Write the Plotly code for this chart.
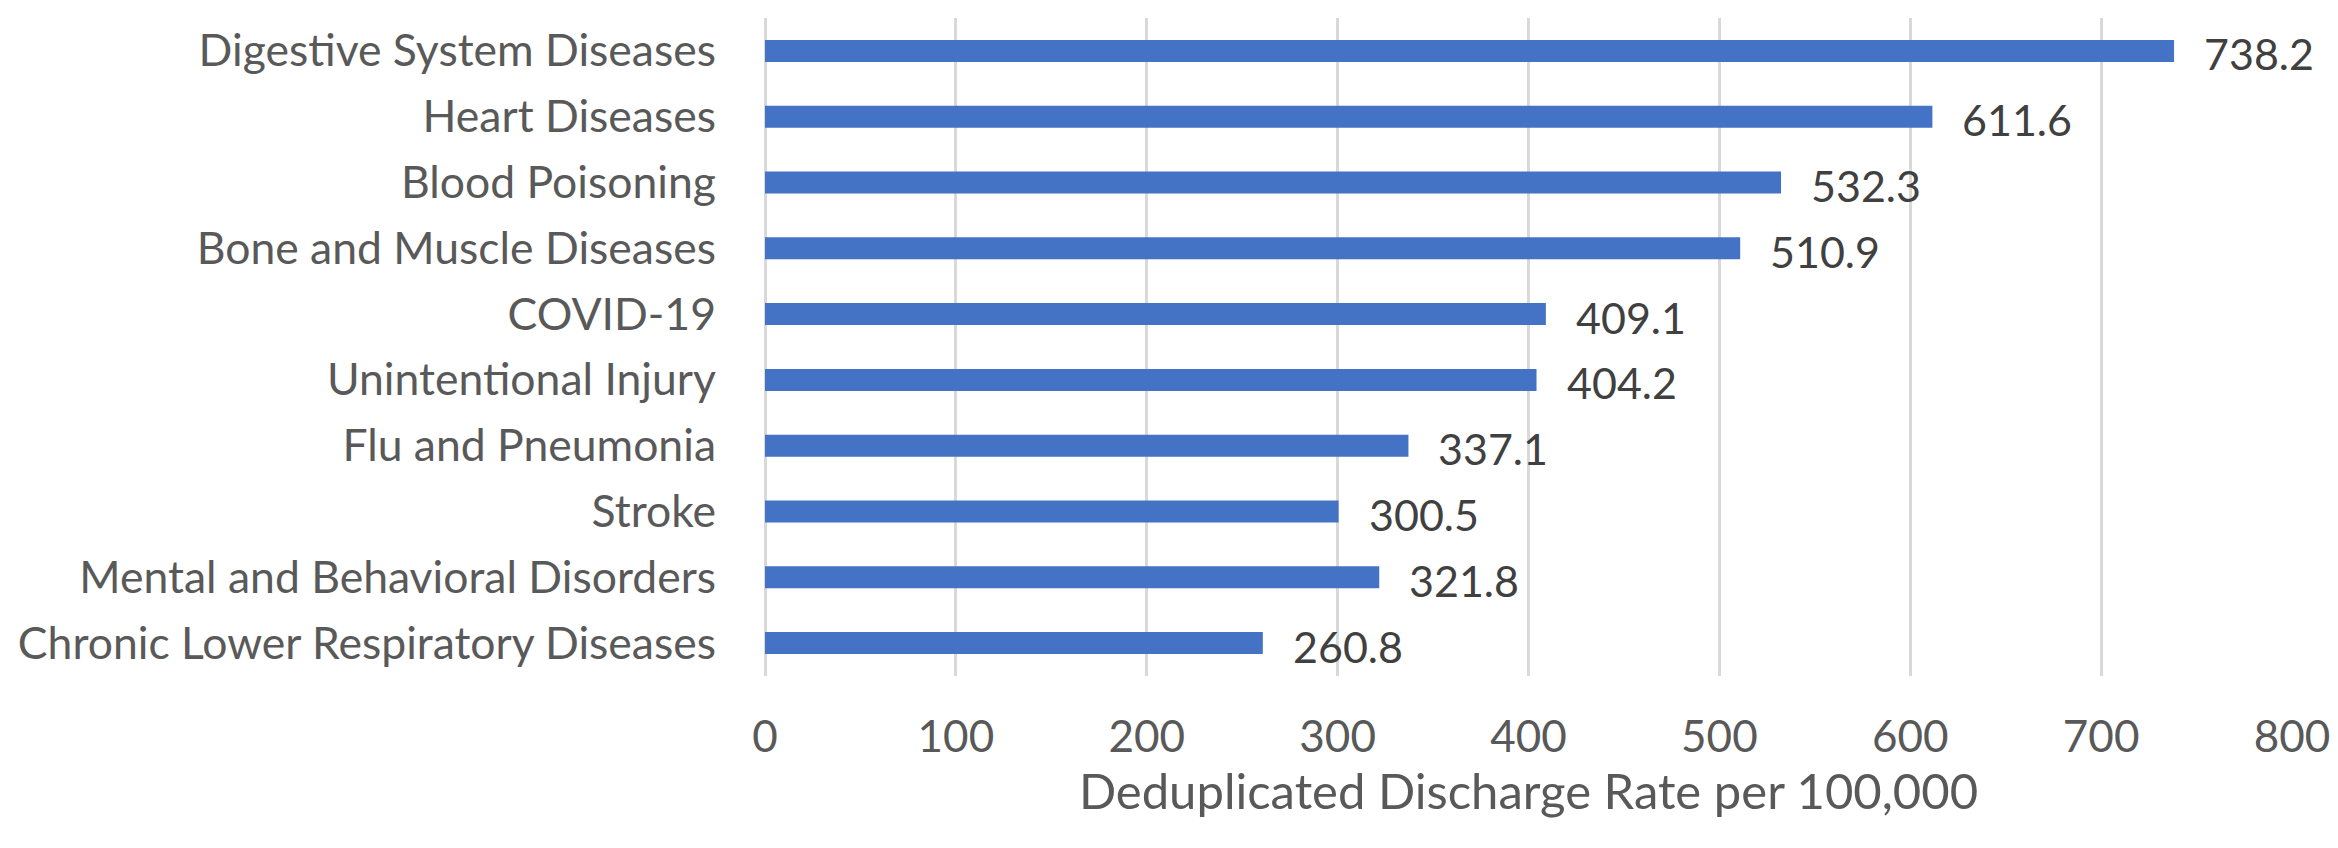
import plotly.graph_objects as go

categories = [
    "Digestive System Diseases",
    "Heart Diseases",
    "Blood Poisoning",
    "Bone and Muscle Diseases",
    "COVID-19",
    "Unintentional Injury",
    "Flu and Pneumonia",
    "Stroke",
    "Mental and Behavioral Disorders",
    "Chronic Lower Respiratory Diseases",
]
rates = [738.2, 611.6, 532.3, 510.9, 409.1, 404.2, 337.1, 300.5, 321.8, 260.8]
x_ticks = [0, 100, 200, 300, 400, 500, 600, 700, 800]
x_title = "Deduplicated Discharge Rate per 100,000"

FONT = "Lato"
TEXT_COLOR = "#595959"
LABEL_COLOR = "#404040"
BAR_COLOR = "#4472C4"
GRID_COLOR = "#D9D9D9"

fig = go.Figure()
fig.add_trace(go.Bar(
    x=rates,
    y=categories,
    orientation="h",
    width=0.335,
    marker=dict(color=BAR_COLOR, line=dict(width=0)),
    hoverinfo="x+y",
))

for v, c in zip(rates, categories):
    fig.add_annotation(
        x=v, y=c, xref="x", yref="y",
        text=f"{v:.1f}",
        showarrow=False,
        xanchor="left", yanchor="middle",
        xshift=28, yshift=-3,
        font=dict(family=FONT, size=43, color=LABEL_COLOR),
    )

fig.update_layout(
    width=2338, height=848,
    margin=dict(l=757, r=54, t=10, b=180),
    paper_bgcolor="white",
    plot_bgcolor="white",
    showlegend=False,
    font=dict(family=FONT, color=TEXT_COLOR),
)

fig.update_xaxes(
    range=[0, 800],
    tickvals=x_ticks,
    ticktext=[str(t) for t in x_ticks],
    showgrid=True, gridcolor=GRID_COLOR, gridwidth=3,
    zeroline=True, zerolinecolor=GRID_COLOR, zerolinewidth=3,
    showline=False,
    ticks="",
    ticklabelstandoff=31,
    tickfont=dict(family=FONT, size=44, color=TEXT_COLOR),
    title=dict(text=x_title, font=dict(family=FONT, size=49, color=TEXT_COLOR), standoff=3),
)
fig.update_yaxes(
    categoryorder="array",
    categoryarray=categories,
    autorange="reversed",
    showgrid=False,
    showline=False,
    ticks="",
    ticklabelstandoff=48,
    tickfont=dict(family=FONT, size=44.5, color=TEXT_COLOR),
)

fig.write_html("out.html")
